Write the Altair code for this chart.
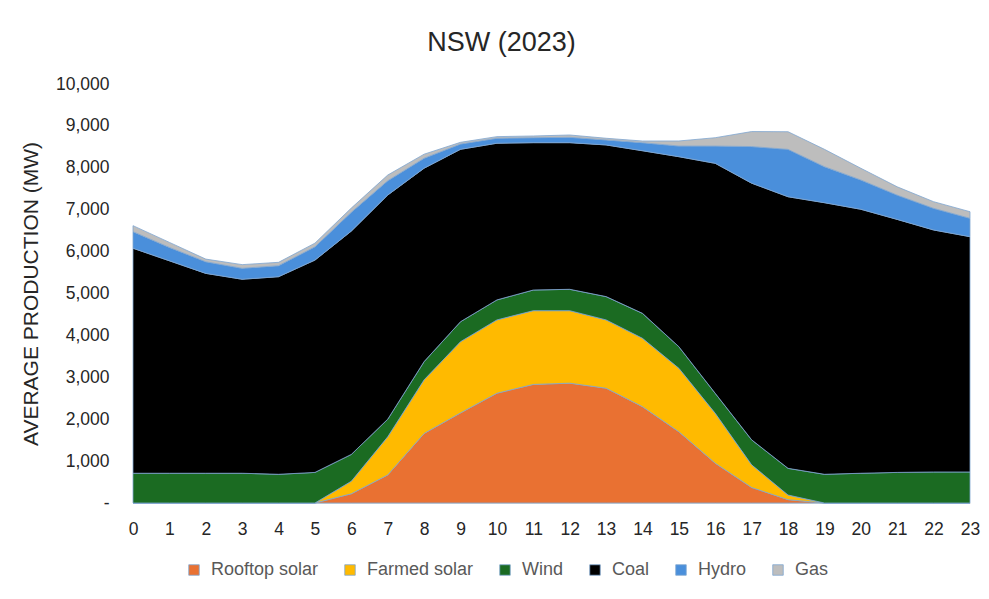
import altair as alt
import pandas as pd

hours = list(range(24))
series = ["Rooftop solar", "Farmed solar", "Wind", "Coal", "Hydro", "Gas"]
colors = ["#E97132", "#FFBA00", "#1B6B22", "#000000", "#4A8FDB", "#BDBDBD"]

rooftop = [0, 0, 0, 0, 0, 0, 220, 670, 1660, 2150, 2620, 2830, 2860, 2740, 2300, 1700, 950, 370, 80, 0, 0, 0, 0, 0]
farmed = [0, 0, 0, 0, 0, 0, 300, 910, 1280, 1700, 1750, 1760, 1730, 1630, 1630, 1515, 1190, 540, 110, 0, 0, 0, 0, 0]
wind = [710, 710, 710, 710, 685, 730, 640, 420, 435, 477, 477, 493, 510, 556, 596, 515, 477, 597, 637, 685, 710, 730, 740, 740]
coal = [5370, 5070, 4770, 4630, 4716, 5067, 5330, 5350, 4616, 4114, 3739, 3517, 3500, 3620, 3881, 4535, 5489, 6126, 6482, 6482, 6300, 6038, 5776, 5616]
hydro = [396, 320, 278, 262, 263, 317, 450, 341, 238, 127, 119, 119, 128, 119, 192, 255, 413, 874, 1131, 860, 700, 580, 517, 439]
gas = [143, 120, 63, 87, 80, 88, 100, 136, 96, 40, 39, 40, 55, 40, 40, 120, 199, 358, 421, 414, 279, 198, 158, 157]

values = [rooftop, farmed, wind, coal, hydro, gas]
rows = []
for i, (name, vals) in enumerate(zip(series, values)):
    for h, v in zip(hours, vals):
        rows.append({"Hour": h, "Source": name, "MW": v, "idx": i})
df = pd.DataFrame(rows)

FONT = "Liberation Sans"

chart = alt.Chart(df).mark_area(
    stroke="#7FA6D0", strokeWidth=0.8, opacity=1
).encode(
    x=alt.X("Hour:Q",
            scale=alt.Scale(domain=[0, 23], nice=False, zero=False),
            axis=alt.Axis(values=hours, title=None, grid=False, ticks=False,
                          domain=True, domainColor="#D9D9D9", domainWidth=1,
                          labelFontSize=17.5, labelColor="#262626", labelFont=FONT,
                          labelPadding=17, labelFlush=False)),
    y=alt.Y("MW:Q", stack="zero",
            scale=alt.Scale(domain=[0, 10000], nice=False),
            axis=alt.Axis(values=list(range(0, 10001, 1000)), grid=False, ticks=False,
                          domain=False, title="AVERAGE PRODUCTION (MW)",
                          labelExpr="datum.value == 0 ? '-' : format(datum.value, ',')",
                          labelFontSize=17.5, labelColor="#262626", labelFont=FONT,
                          labelPadding=24, titleFontSize=21, titleFont=FONT,
                          titleFontWeight="normal", titleColor="#262626",
                          titlePadding=14)),
    color=alt.Color("Source:N",
                    scale=alt.Scale(domain=series, range=colors),
                    sort=series,
                    legend=alt.Legend(title=None, orient="none", direction="horizontal",
                                      legendX=52, legendY=477,
                                      symbolType="square", symbolSize=110,
                                      symbolStrokeColor="#7FA6D0", symbolStrokeWidth=0.8,
                                      labelFontSize=18, labelColor="#595959", labelFont=FONT,
                                      columnPadding=22, symbolOffset=0, labelOffset=8)),
    order=alt.Order("idx:Q", sort="ascending"),
).properties(
    width=837, height=419,
    title=alt.TitleParams("NSW (2023)", fontSize=27, font=FONT, fontWeight="normal",
                          color="#262626", anchor="middle", dx=-50, offset=18),
    padding={"left": 125, "top": 76, "right": 11, "bottom": 88},
    autosize=alt.AutoSizeParams(type="none"),
).configure_view(stroke=None)

chart.save("out.html", embed_options={"renderer": "svg", "actions": False})
